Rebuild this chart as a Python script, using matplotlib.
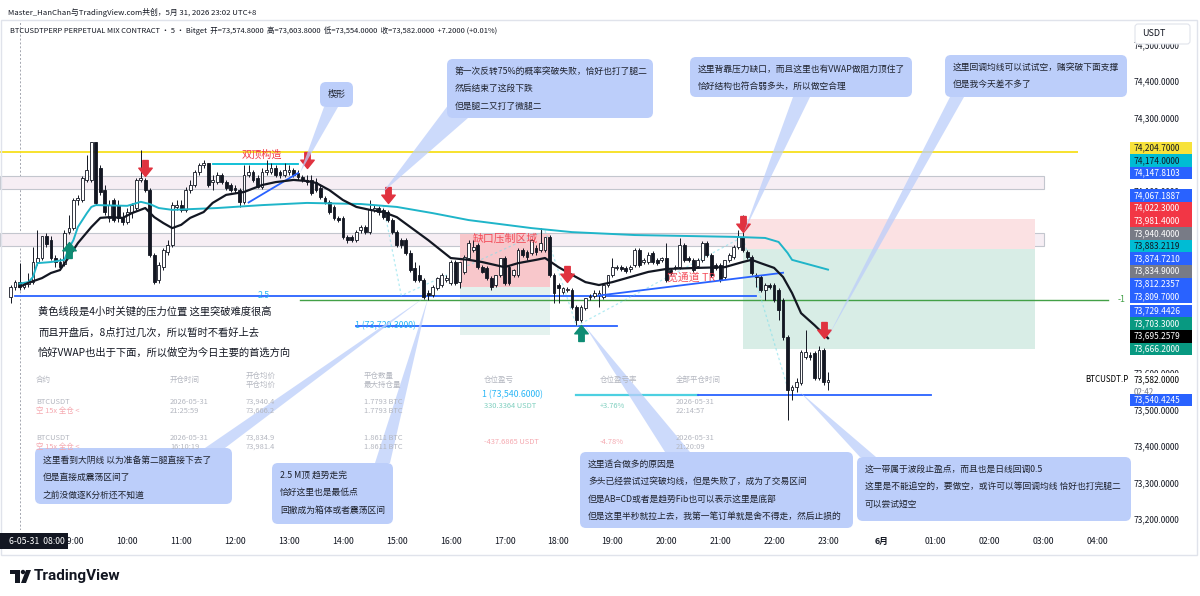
import numpy as np
import pandas as pd
import matplotlib
matplotlib.use("Agg")
import matplotlib.pyplot as plt
from matplotlib.patches import Rectangle, FancyBboxPatch, Polygon, Circle
from matplotlib.path import Path
from matplotlib.transforms import IdentityTransform, blended_transform_factory

plt.rcParams["font.family"] = ["Noto Sans CJK SC", "DejaVu Sans"]

# ---------------- data: BTCUSDT perp, 5 minute bars starting 07:50 ----------------
first_bar = "2026-05-31 07:50"
session_start = "2026-05-31 08:00"

opens = [73808, 73836, 73849, 73836, 73844, 73849, 73904, 73915, 73975, 73964,
         73915, 73904, 73899, 73986, 73997, 74074, 74074, 74129, 74129, 74233,
         74162, 74101, 74025, 74074, 74060, 74027, 74014, 74041, 74052, 74129,
         74129, 74101, 73923, 73855, 73890, 73932, 73951, 74055, 74060, 74047,
         74101, 74115, 74151, 74170, 74175, 74123, 74123, 74143, 74123, 74115,
         74107, 74101, 74069, 74143, 74151, 74134, 74110, 74151, 74151, 74162,
         74151, 74143, 74151, 74156, 74148, 74137, 74129, 74129, 74123, 74107,
         74079, 74069, 74055, 74025, 74025, 73973, 73973, 73964, 73992, 74000,
         73986, 74047, 74052, 74047, 74041, 74019, 73986, 73964, 73964, 73929,
         73888, 73869, 73855, 73819, 73814, 73833, 73841, 73855, 73847, 73904,
         73849, 73877, 73915, 73937, 73951, 73890, 73888, 73860, 73841, 73869,
         73915, 73890, 73869, 73869, 73937, 73932, 73929, 73942, 73937, 73937,
         73973, 73869, 73841, 73822, 73827, 73827, 73781, 73745, 73778, 73808,
         73811, 73814, 73808, 73841, 73869, 73888, 73890, 73888, 73885, 73896,
         73937, 73904, 73904, 73929, 73910, 73910, 73915, 73882, 73888, 73890,
         73951, 73915, 73910, 73893, 73910, 73956, 73923, 73896, 73896, 73863,
         73910, 73918, 73945, 73973, 73932, 73918, 73869, 73863, 73827, 73841,
         73841, 73827, 73800, 73699, 73553, 73562, 73573, 73644, 73649, 73655,
         73586, 73663, 73574.8]
highs = [73841, 73855, 73901, 73849, 73874, 73945, 73992, 73976, 73984, 73975,
         73923, 73915, 73992, 74033, 74079, 74088, 74140, 74197, 74233, 74233,
         74170, 74115, 74074, 74079, 74074, 74041, 74052, 74066, 74134, 74211,
         74134, 74107, 73929, 73904, 73942, 73964, 74069, 74074, 74074, 74110,
         74129, 74156, 74175, 74184, 74175, 74143, 74151, 74148, 74129, 74121,
         74115, 74107, 74170, 74170, 74156, 74143, 74162, 74184, 74175, 74170,
         74156, 74175, 74170, 74162, 74156, 74143, 74143, 74143, 74134, 74115,
         74085, 74074, 74060, 74030, 74030, 73978, 73978, 73992, 74006, 74006,
         74074, 74060, 74058, 74052, 74047, 74025, 73992, 73970, 73970, 73937,
         73904, 73896, 73860, 73827, 73841, 73863, 73874, 73869, 73910, 73910,
         73904, 73923, 73964, 73964, 73956, 73896, 73893, 73866, 73869, 73915,
         73921, 73896, 73885, 73942, 73942, 73937, 73967, 73951, 73997, 73973,
         73978, 73874, 73847, 73836, 73836, 73833, 73786, 73786, 73805, 73816,
         73827, 73827, 73847, 73869, 73915, 73896, 73896, 73893, 73896, 73942,
         73942, 73915, 73932, 73934, 73915, 73918, 73956, 73888, 73896, 73970,
         73956, 73921, 73915, 73915, 73962, 73962, 73929, 73901, 73901, 73910,
         73929, 73951, 73992, 74033, 73937, 73923, 73874, 73869, 73847, 73847,
         73847, 73833, 73806, 73704, 73567, 73586, 73663, 73718, 73658, 73660,
         73674, 73668, 73603.8]
lows = [73792, 73827, 73827, 73830, 73836, 73844, 73896, 73910, 73945, 73910,
        73890, 73882, 73893, 73981, 73992, 74060, 74069, 74123, 74123, 74060,
        74088, 74033, 74014, 74014, 74014, 74006, 74008, 74025, 74047, 74123,
        74096, 73918, 73844, 73847, 73882, 73923, 73945, 74047, 74041, 74041,
        74093, 74110, 74143, 74162, 74110, 74101, 74118, 74118, 74101, 74096,
        74093, 74055, 74064, 74137, 74123, 74107, 74104, 74143, 74145, 74137,
        74134, 74137, 74143, 74137, 74129, 74123, 74115, 74088, 74096, 74077,
        74064, 74036, 74019, 74014, 73967, 73956, 73959, 73959, 73984, 73981,
        73981, 74041, 74033, 74022, 74014, 73981, 73945, 73942, 73923, 73877,
        73849, 73849, 73803, 73800, 73808, 73827, 73836, 73849, 73841, 73841,
        73832, 73872, 73910, 73932, 73885, 73874, 73855, 73827, 73836, 73863,
        73841, 73841, 73863, 73863, 73918, 73910, 73923, 73923, 73932, 73932,
        73863, 73792, 73792, 73816, 73822, 73775, 73731, 73740, 73773, 73800,
        73806, 73781, 73803, 73836, 73863, 73882, 73879, 73874, 73877, 73890,
        73890, 73899, 73899, 73899, 73896, 73904, 73849, 73869, 73882, 73885,
        73904, 73904, 73877, 73888, 73904, 73918, 73863, 73882, 73849, 73857,
        73904, 73912, 73940, 73932, 73912, 73869, 73836, 73822, 73800, 73830,
        73795, 73745, 73690, 73471, 73526, 73548, 73567, 73638, 73636, 73581,
        73581, 73567, 73554.0]
closes = [73836, 73849, 73836, 73844, 73849, 73904, 73915, 73975, 73953, 73915,
          73904, 73890, 73984, 73997, 74074, 74079, 74134, 74156, 74233, 74066,
          74096, 74041, 74060, 74019, 74025, 74014, 74041, 74060, 74129, 74134,
          74101, 73923, 73849, 73896, 73937, 73951, 74060, 74060, 74047, 74101,
          74115, 74151, 74170, 74175, 74115, 74129, 74143, 74123, 74107, 74101,
          74101, 74069, 74143, 74151, 74129, 74110, 74151, 74156, 74162, 74143,
          74143, 74156, 74156, 74143, 74137, 74129, 74123, 74093, 74101, 74082,
          74069, 74041, 74025, 74019, 73973, 73964, 73964, 73986, 74000, 73986,
          74049, 74052, 74041, 74027, 74019, 73986, 73951, 73951, 73929, 73882,
          73855, 73855, 73808, 73814, 73836, 73860, 73869, 73860, 73904, 73847,
          73904, 73918, 73956, 73945, 73890, 73877, 73860, 73836, 73869, 73915,
          73847, 73847, 73882, 73937, 73923, 73918, 73964, 73932, 73956, 73973,
          73869, 73819, 73833, 73833, 73830, 73781, 73745, 73781, 73805, 73811,
          73819, 73819, 73841, 73869, 73890, 73890, 73885, 73879, 73890, 73937,
          73896, 73910, 73923, 73904, 73901, 73915, 73855, 73874, 73890, 73951,
          73910, 73910, 73882, 73910, 73956, 73923, 73869, 73888, 73855, 73910,
          73923, 73945, 73973, 73937, 73918, 73874, 73863, 73827, 73841, 73836,
          73800, 73773, 73699, 73553, 73562, 73575, 73658, 73658, 73644, 73586,
          73663, 73575, 73582.0]

# EMA (black) and session VWAP (cyan)
ema_times = ["08:00", "08:10", "08:25", "08:35", "08:45", "08:55", "09:05", "09:20", "09:30", "09:40",
             "09:55", "10:05", "10:20", "10:30", "10:40", "10:50", "11:00", "11:10", "11:25", "11:35",
             "11:50", "12:10", "12:30", "12:45", "13:05", "13:20", "13:30", "13:45", "14:00", "14:15",
             "14:30", "14:45", "15:00", "15:15", "15:35", "16:00", "16:20", "16:35", "17:00", "17:15",
             "17:35", "17:45", "18:00", "18:15", "18:30", "18:45", "19:00", "19:20", "19:40", "20:00",
             "20:35", "21:05", "21:25", "21:35", "21:45", "22:00", "22:10", "22:20", "22:30", "22:45",
             "23:00"]
ema_values = [73836, 73847, 73860, 73874, 73882, 73918, 73956, 74000, 74025, 74027,
              74025, 74038, 74052, 74027, 74011, 73997, 74006, 74025, 74041, 74066,
              74088, 74096, 74115, 74123, 74129, 74126, 74121, 74101, 74074, 74055,
              74047, 74041, 74027, 74000, 73964, 73915, 73910, 73904, 73890, 73901,
              73910, 73915, 73890, 73869, 73849, 73841, 73849, 73863, 73877, 73885,
              73888, 73890, 73904, 73910, 73901, 73888, 73863, 73819, 73764, 73731,
              73695.2579]
vwap_times = ["08:00", "08:10", "08:15", "08:20", "08:35", "08:50", "08:55", "09:00", "09:05", "09:15",
              "09:20", "09:25", "10:00", "10:15", "10:25", "10:35", "10:50", "11:40", "12:30", "13:20",
              "14:20", "15:00", "15:40", "16:20", "17:30", "18:15", "19:25", "21:15", "21:50", "22:05",
              "22:15", "22:20", "23:00"]
vwap_values = [73845, 73849, 73863, 73901, 73904, 73910, 73942, 73964, 74000, 74038,
               74055, 74060, 74058, 74069, 74063, 74052, 74047, 74052, 74060, 74066,
               74063, 74055, 74038, 74019, 73997, 73986, 73978, 73973, 73970, 73959,
               73929, 73910, 73883.2119]

# signal arrows (centre of the arrow)
sell_times = ["10:20", "13:20", "14:50", "18:10", "21:25", "22:55"]
sell_prices = [74162, 74184, 74088, 73871, 74008, 73718]
buy_times = ["08:55", "18:25"]
buy_prices = [73937, 73710]

# drawn levels
yellow_level = 74204.7
double_top_level = 74174.0
double_top_times = ["11:35", "13:10"]
wedge_times = ["12:15", "13:10"]
wedge_prices = [74067.1887, 74147.8103]
channel_times = ["18:45", "22:10"]
channel_prices = [73812.2357, 73874.7210]
fib_25_level = 73809.7
fib_m1_level = 73800.0
fib_1_level = 73729.4426
fib_1b_level = 73540.4245
fib_path_times = ["14:45", "15:05", "17:45", "18:20", "21:25", "22:15"]
fib_path_prices = [74060, 73812, 73990, 73729, 73973, 73560]
band_tops = [74140, 73984]
band_bottoms = [74104, 73948]

# position boxes: [gap short 16:10, short 21:25]
zone_starts = ["16:10", "21:25"]
zone_ends = ["17:50", "02:50"]
zone_stops = [73981.4, 74022.3]
zone_entries = [73834.9, 73940.4]
zone_targets = [73703.3, 73666.2]

# price-scale labels
label_prices = [74204.7, 74174.0, 74147.8103, 74067.1887, 74022.3, 73981.4, 73940.4, 73883.2119,
                73874.7210, 73834.9, 73812.2357, 73809.7, 73729.4426, 73703.3, 73695.2579, 73666.2]
label_colors = ["#f7e23b", "#00bcd4", "#2962ff", "#2962ff", "#f23645", "#f23645", "#787b86", "#00bcd4",
                "#2962ff", "#787b86", "#2962ff", "#2962ff", "#2962ff", "#089981", "#000000", "#089981"]
target_label = 73540.4245
price_ticks = [73200, 73300, 73400, 73500, 73600, 74100, 74300, 74400, 74500]

time_tick_labels = ["09:00", "10:00", "11:00", "12:00", "13:00", "14:00", "15:00", "16:00", "17:00",
                    "18:00", "19:00", "20:00", "21:00", "22:00", "23:00", "6月", "01:00", "02:00",
                    "03:00", "04:00"]

# ---------------- layout ----------------
W, H = 1200, 596
AX_R, AX_T, AX_B = 1078, 20, 530
X0 = 19.5            # pixel of 08:00
PX_PER_HOUR = 53.9
Y_MIN, Y_MAX = 73169.8, 74567.2
ID = IdentityTransform()
PRICE_FS = 6.0


def hours(hhmm):
    hh, mm = map(int, hhmm.split(":"))
    if hh < 7:
        hh += 24
    return hh - 8 + mm / 60


def hrs(lst):
    return np.array([hours(s) for s in lst])


def px(x, y):
    return (x, H - y)


fig = plt.figure(figsize=(12, 5.96), dpi=100)
fig.patch.set_facecolor("white")


def ftext(x, y, s, **kw):
    kw.setdefault("color", "#131722")
    kw.setdefault("va", "center")
    return fig.text(x / W, 1 - y / H, s, **kw)


ax = fig.add_axes([0, 1 - AX_B / H, AX_R / W, (AX_B - AX_T) / H])
ax.set_xlim(-X0 / PX_PER_HOUR, (AX_R - X0) / PX_PER_HOUR)
ax.set_ylim(Y_MIN, Y_MAX)
for s in ax.spines.values():
    s.set_visible(False)
ax.set_xticks([])
ax.yaxis.tick_right()
ax.set_yticks(price_ticks)
ax.set_yticklabels([f"{v:,.4f}" for v in price_ticks])
ax.tick_params(axis="y", length=0, pad=40, labelsize=PRICE_FS, labelcolor="#131722")

x_start = ax.get_xlim()[0]

# session separator
ax.axvline(0, color="#a3a6af", ls=(0, (2, 2)), lw=0.7, zorder=1)

# supply bands
for top, bot in zip(band_tops, band_bottoms):
    ax.add_patch(Rectangle((x_start, bot), hours("03:00") - x_start, top - bot,
                           fc="#f6eef4", ec="#c3c6ce", lw=0.8, zorder=1))

# position boxes
pink = ["#f8c7cb", "#fbe1e3"]
green = ["#e4f2ee", "#d8ede6"]
for k in range(len(zone_starts)):
    t0, t1 = hours(zone_starts[k]), hours(zone_ends[k])
    ax.add_patch(Rectangle((t0, zone_entries[k]), t1 - t0, zone_stops[k] - zone_entries[k],
                           fc=pink[k], ec="none", zorder=1))
    ax.add_patch(Rectangle((t0, zone_targets[k]), t1 - t0, zone_entries[k] - zone_targets[k],
                           fc=green[k], ec="none", zorder=1))

# horizontal levels
ax.axhline(yellow_level, color="#f7df1e", lw=1.3, zorder=2)
ax.plot(hrs(double_top_times), [double_top_level] * 2, color="#00bcd4", lw=1.3, zorder=2)
ax.plot([hours("07:55"), hours("21:40")], [fib_25_level] * 2, color="#2962ff", lw=1.3, zorder=2)
ax.plot([hours("13:12"), 20.2], [fib_m1_level] * 2, color="#43a047", lw=1.0, zorder=2, clip_on=False)
ax.plot([hours("14:15"), hours("19:05")], [fib_1_level] * 2, color="#2962ff", lw=1.3, zorder=2)
ax.plot([hours("18:20"), hours("20:35")], [fib_1b_level] * 2, color="#4dd0e1", lw=1.6, zorder=2)
ax.plot([hours("20:35"), hours("00:55")], [fib_1b_level] * 2, color="#2962ff", lw=1.3, zorder=2)
ax.plot(hrs(fib_path_times), fib_path_prices, color="#80deea", lw=0.9, ls=(0, (2, 2)), alpha=0.6, zorder=2)
ax.plot(hrs(wedge_times), wedge_prices, color="#2962ff", lw=1.3, zorder=5)
ax.plot(hrs(channel_times), channel_prices, color="#2962ff", lw=1.3, zorder=5)

# candles
times = pd.date_range(first_bar, periods=len(opens), freq="5min")
t = ((times - pd.Timestamp(session_start)) / pd.Timedelta(hours=1)).to_numpy()
o, h, l, c = (np.array(v, dtype=float) for v in (opens, highs, lows, closes))
up = c >= o
bw = 0.62 * 5 / 60
ax.vlines(t, l, h, color="#131722", lw=0.7, zorder=3)
ax.bar(t[up], (c - o)[up], bottom=o[up], width=bw, color="white", edgecolor="#131722", lw=0.6, zorder=4)
ax.bar(t[~up], (c - o)[~up], bottom=o[~up], width=bw, color="#131722", edgecolor="#131722", lw=0.6, zorder=4)

# indicators
ax.plot(hrs(vwap_times), vwap_values, color="#1fb5c9", lw=1.4, zorder=5)
ax.plot(hrs(ema_times), ema_values, color="#131722", lw=1.6, zorder=5)

# signal arrows
down_arrow = Path([(-0.17, 0.5), (0.17, 0.5), (0.17, 0.02), (0.42, 0.02), (0, -0.5),
                   (-0.42, 0.02), (-0.17, 0.02), (-0.17, 0.5)], closed=True)
up_arrow = Path([(x, -y) for x, y in down_arrow.vertices], closed=True)
ax.plot(hrs(sell_times), sell_prices, ls="none", marker=down_arrow, ms=11.5, color="#e0323f", zorder=7)
ax.plot(hrs(buy_times), buy_prices, ls="none", marker=up_arrow, ms=11.5, color="#0e8c74", zorder=7)

# level texts
ax.text(hours("12:25"), fib_25_level + 4, "2.5", color="#29b6f6", fontsize=6.3, va="center", zorder=6)
ax.text(hours("14:13"), fib_1_level, "1 (73,729.3000)", color="#29b6f6", fontsize=6.3, va="center", zorder=6)
ax.text(hours("16:35"), fib_1b_level, "1 (73,540.6000)", color="#29b6f6", fontsize=6.3, va="center", zorder=6)
ax.text(20.38, fib_m1_level, "-1", color="#43a047", fontsize=6.3, va="center", clip_on=False)

# time axis
tr_x = blended_transform_factory(ax.transData, ax.transAxes)
ty = (AX_B - 541) / (AX_B - AX_T)
for k, lab in enumerate(time_tick_labels):
    ax.text(k + 1, ty, lab, transform=tr_x, ha="center", va="center", fontsize=6.3,
            color="#131722", clip_on=False, fontweight="bold" if lab == "6月" else "normal")
fig.add_artist(Rectangle(px(0, 549), 68, 16, transform=ID, fc="#131722", ec="none", zorder=5))
ftext(65, 541, "6-05-31  08:00", ha="right", fontsize=6.3, color="white", zorder=6)

# price scale labels, stacked from the bottom so they do not overlap
ppx = (Y_MAX - Y_MIN) / (AX_B - AX_T)
row = 12.6 * ppx
tr_y = blended_transform_factory(ax.transAxes, ax.transData)
bx0, bwid = 1130 / AX_R, 62 / AX_R
tx0 = 1134 / AX_R
order = np.argsort(label_prices)
prev = None
for k in order:
    y = label_prices[k]
    if prev is not None:
        y = max(y, prev + row)
    prev = y
    ax.add_patch(Rectangle((bx0, y - row / 2), bwid, row, transform=tr_y, fc=label_colors[k],
                           ec="none", clip_on=False, zorder=8))
    tc = "#131722" if label_colors[k] in ("#f7e23b", "#00bcd4") else "white"
    ax.text(tx0, y, f"{label_prices[k]:,.4f}", transform=tr_y, color=tc, fontsize=PRICE_FS,
            va="center", clip_on=False, zorder=9)

last = closes[-1]
ax.add_patch(Rectangle((bx0, last - 1.5 * row), bwid, 2 * row, transform=tr_y, fc="white",
                       ec="none", clip_on=False, zorder=8))
ax.text(tx0, last, f"{last:,.4f}", transform=tr_y, fontsize=PRICE_FS, va="center", clip_on=False, zorder=9)
ax.text(tx0, last - row, "02:42", transform=tr_y, fontsize=5.8, va="center", color="#787b86",
        clip_on=False, zorder=9)
ax.text(1085 / AX_R, last, "BTCUSDT.P", transform=tr_y, fontsize=5.8, va="center", clip_on=False, zorder=9)
ty_target = min(target_label, last - row - 8 * ppx)
ax.add_patch(Rectangle((bx0, ty_target - row / 2), bwid, row, transform=tr_y, fc="#2962ff",
                       ec="none", clip_on=False, zorder=8))
ax.text(tx0, ty_target, f"{target_label:,.4f}", transform=tr_y, color="white", fontsize=PRICE_FS,
        va="center", clip_on=False, zorder=9)

# USDT box
fig.add_artist(FancyBboxPatch(px(1135, 44), 55, 20, boxstyle="round,pad=0,rounding_size=3",
                              transform=ID, fc="white", ec="#e0e3eb", lw=0.8, zorder=5))
ftext(1142, 33, "USDT", fontsize=6.5, zorder=6)

# frame
fig.add_artist(Rectangle(px(0.5, 555), 1196, 535, transform=ID, fc="none", ec="#e0e3eb", lw=1, zorder=1))

# header lines
ftext(8, 12, "Master_HanChan与TradingView.com共创，5月 31, 2026 23:02 UTC+8", fontsize=5.6)
chg = closes[-1] - opens[-1]
legend_line = (f"BTCUSDTPERP PERPETUAL MIX CONTRACT · 5 · Bitget  开={opens[-1]:,.4f}  高={highs[-1]:,.4f}  "
               f"低={lows[-1]:,.4f}  收={closes[-1]:,.4f}  {chg:+.4f} ({chg / opens[-1] * 100:+.2f}%)")
ftext(10, 31, legend_line, fontsize=5.4)

# chart texts
ftext(262, 155, "双顶构造", ha="center", fontsize=7.3, color="#f23645")
ftext(505, 239, "缺口压制区域", ha="center", fontsize=7.8, color="#f23645", alpha=0.85)
ftext(691, 277, "宽通道 TR", ha="center", fontsize=7.8, color="#f23645", alpha=0.85)
for k, line in enumerate(["黄色线段是4小时关键的压力位置 这里突破难度很高",
                          "而且开盘后，8点打过几次，所以暂时不看好上去",
                          "恰好VWAP也出于下面，所以做空为今日主要的首选方向"]):
    ftext(38, 312 + k * 20.5, line, fontsize=7.4)

# faded trade table
faint = "#b4b7c0"
cols = [36, 170, 246, 364, 484, 600, 676]
heads = [["合约"], ["开仓时间"], ["开仓均价", "平仓均价"], ["平仓数量", "最大持仓量"], ["仓位盈亏"],
         ["仓位盈亏率"], ["全部平仓时间"]]
for x, hl in zip(cols, heads):
    if len(hl) == 1:
        ftext(x, 380, hl[0], fontsize=5.4, color=faint)
    else:
        ftext(x, 376, hl[0], fontsize=5.4, color=faint)
        ftext(x, 385, hl[1], fontsize=5.4, color=faint)
rows = [(402, ["BTCUSDT", "2026-05-31", "73,940.4", "1.7793 BTC"], ["空 15x 全仓 <", "21:25:59", "73,666.2", "1.7793 BTC"],
         "330.3364 USDT", "+3.76%", "#7fcfbf", "22:14:57"),
        (438, ["BTCUSDT", "2026-05-31", "73,834.9", "1.8611 BTC"], ["空 15x 全仓 <", "16:10:19", "73,981.4", "1.8611 BTC"],
         "-437.6865 USDT", "-4.78%", "#f5a9b0", "21:20:09")]
for y, top, bot, pnl, pct, pc, closed in rows:
    for x, s in zip(cols[:4], top):
        ftext(x, y, s, fontsize=5.4, color=faint)
    for x, s in zip(cols[:4], bot):
        ftext(x, y + 9, s, fontsize=5.4, color="#f5a9b0" if s.startswith("空") else faint)
    ftext(cols[4], y + 4, pnl, fontsize=5.4, color=pc)
    ftext(cols[5], y + 4, pct, fontsize=5.4, color=pc)
    ftext(cols[6], y, "2026-05-31", fontsize=5.4, color=faint)
    ftext(cols[6], y + 9, closed, fontsize=5.4, color=faint)

# callouts: box (x0, y0, x1, y1) in pixels, text lines, tail (base1, base2, tip)
callouts = [
    ((320, 82, 353, 107), ["楔形"], ((324, 107), (338, 107), (300, 173))),
    ((447, 59, 653, 118), ["第一次反转75%的概率突破失败，恰好也打了腿二", "然后结束了这段下跌", "但是腿二又打了微腿二"],
     ((449, 104), (468, 118), (383, 192))),
    ((690, 57, 912, 97), ["这里背靠压力缺口，而且这里也有VWAP做阻力顶住了", "恰好结构也符合弱多头，所以做空合理"],
     ((793, 97), (810, 97), (744, 232))),
    ((945, 55, 1127, 97), ["这里回调均线可以试试空，赌突破下面支撑", "但是我今天差不多了"],
     ((950, 97), (964, 97), (828, 337))),
    ((35, 448, 232, 504), ["这里看到大阴线 以为准备第二腿直接下去了", "但是直接成震荡区间了", "之前没做逐K分析还不知道"],
     ((205, 448), (225, 448), (425, 297))),
    ((272, 463, 393, 524), ["2.5 M顶 趋势走完", "恰好这里也是最低点", "回撤成为箱体或者震荡区间"],
     ((375, 463), (390, 463), (428, 298))),
    ((580, 452, 853, 528), ["这里适合做多的原因是", "多头已经尝试过突破均线，但是失败了，成为了交易区间",
                            "但是AB=CD或者是趋势Fib也可以表示这里是底部",
                            "但是这里半秒就拉上去，我第一笔订单就是舍不得走，然后止损的"],
     ((665, 452), (690, 452), (585, 326))),
    ((857, 457, 1131, 521), ["这一带属于波段止盈点，而且也是日线回调0.5",
                             "这里是不能追空的，要做空，或许可以等回调均线 恰好也打完腿二", "可以尝试短空"],
     ((860, 457), (876, 457), (800, 392))),
]
BOX_FC = "#bccefa"
for (x0, y0, x1, y1), lines, (b1, b2, tip) in callouts:
    fig.add_artist(Polygon([px(*b1), px(*b2), px(*tip)], closed=True, transform=ID, fc=BOX_FC,
                           ec="none", alpha=0.75, zorder=2))
    fig.add_artist(FancyBboxPatch(px(x0, y1), x1 - x0, y1 - y0, boxstyle="round,pad=0,rounding_size=6",
                                  transform=ID, fc=BOX_FC, ec="none", zorder=3))
    if len(lines) == 1:
        ftext((x0 + x1) / 2, (y0 + y1) / 2, lines[0], ha="center", fontsize=6.5, color="#1e222d", zorder=4)
    else:
        for k, line in enumerate(lines):
            ftext(x0 + 8, y0 + 12 + k * 17.5, line, fontsize=6.3, color="#1e222d", zorder=4)

# TradingView logo
fig.add_artist(Rectangle(px(10, 574), 10, 4, transform=ID, fc="#131722", ec="none"))
fig.add_artist(Rectangle(px(15, 583), 5, 13, transform=ID, fc="#131722", ec="none"))
fig.add_artist(Circle(px(23, 572), 2.2, transform=ID, fc="#131722", ec="none"))
fig.add_artist(Polygon([px(21, 583), px(26, 583), px(31, 570), px(26, 570)], closed=True, transform=ID,
                       fc="#131722", ec="none"))
ftext(34, 576, "TradingView", fontsize=11, fontweight="bold", family=["Roboto", "DejaVu Sans"])

fig.savefig("out.png", dpi=100, facecolor="white")
